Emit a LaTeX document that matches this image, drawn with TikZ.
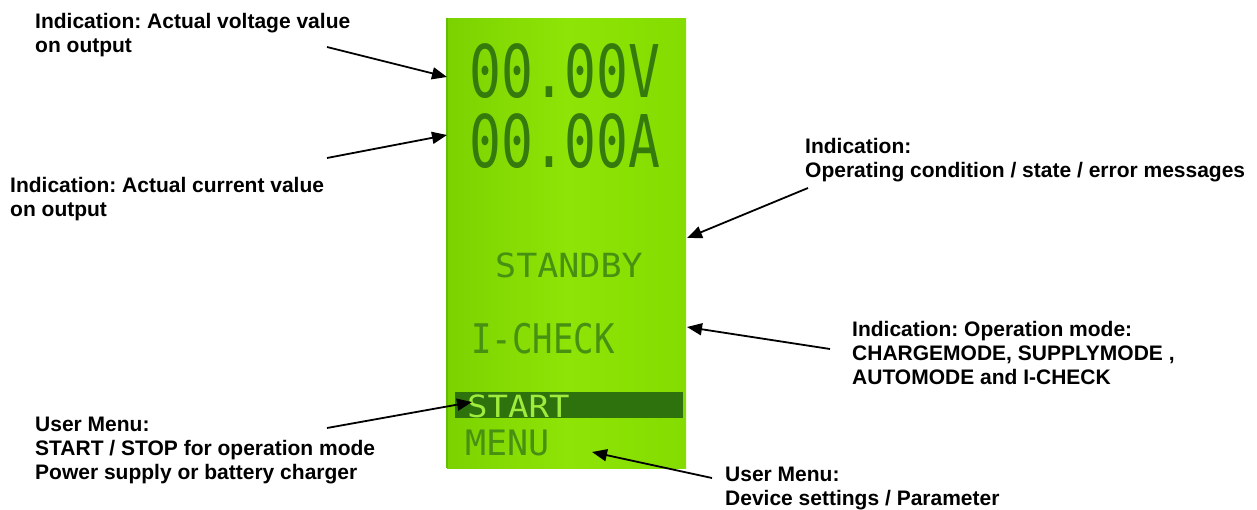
\documentclass[tikz,border=0pt]{standalone}
\usepackage{fontspec}
\usepackage{graphicx}
\setmainfont{Liberation Sans}
\newfontfamily\lcdfont{DejaVu Sans Mono}
\usetikzlibrary{arrows.meta}
\definecolor{lcdL}{RGB}{124,210,0}
\definecolor{lcdM}{RGB}{142,228,6}
\definecolor{lcdR}{RGB}{132,220,0}
\definecolor{lcdEdge}{RGB}{100,190,0}
\definecolor{lcdInk}{RGB}{52,122,12}
\definecolor{lcdInkSoft}{RGB}{70,144,18}
\definecolor{lcdBar}{RGB}{46,114,14}
\definecolor{lcdLit}{RGB}{160,236,60}
\begin{document}
\frenchspacing
\begin{tikzpicture}[x=1pt,y=-1pt,
  lbl/.style={anchor=north west,inner sep=0pt,align=left,font=\fontsize{21}{24}\selectfont\bfseries},
  lcdtxt/.style={anchor=base west,inner sep=0pt,text=lcdInk},
  pointer/.style={line width=1.8pt,-{Triangle[length=15pt,width=12pt]}}]
\useasboundingbox (0,0) rectangle (1257,510);
% LCD panel
\node[anchor=north west,inner sep=0pt,minimum width=239pt,minimum height=450pt,
  left color=lcdL,right color=lcdR,middle color=lcdM] (lcd) at (447,18) {};
\draw[lcdEdge,line width=2.5pt] (lcd.north west) -- (lcd.south west);
\node[anchor=north west,inner sep=0pt,minimum width=228pt,minimum height=26pt,fill=lcdBar] (bar) at (455,392) {};
% LCD texts
\node[lcdtxt,font=\fontsize{53}{53}\lcdfont] (volt) at (469,98) {\scalebox{1}[1.37]{00.00V}};
\node[lcdtxt,font=\fontsize{53}{53}\lcdfont] (amp) at (469,168) {\scalebox{1}[1.37]{00.00A}};
\node[lcdtxt,text=lcdInkSoft,font=\fontsize{35}{35}\lcdfont] (standby) at (495,278) {\scalebox{1}[0.95]{STANDBY}};
\node[lcdtxt,text=lcdInkSoft,font=\fontsize{34}{34}\lcdfont] (icheck) at (471,353) {\scalebox{1}[1.2]{I-CHECK}};
\node[lcdtxt,text=lcdLit,font=\fontsize{34}{34}\lcdfont] (start) at (467,417) {\scalebox{1}[0.9]{START}};
\node[lcdtxt,text=lcdInkSoft,font=\fontsize{35}{35}\lcdfont] (menu) at (465,455) {\scalebox{1}[1.0]{MENU}};
% labels
\node[lbl] (lv) at (35,13) {Indication: Actual voltage value\\on output};
\node[lbl] (lc) at (10,177) {Indication: Actual current value\\on output};
\node[lbl] (ls) at (805,138) {Indication:\\Operating condition / state / error messages};
\node[lbl] (lm) at (852,321) {Indication: Operation mode:\\CHARGEMODE, SUPPLYMODE ,\\AUTOMODE and I-CHECK};
\node[lbl] (lu) at (35,417) {User Menu:\\START / STOP for operation mode\\Power supply or battery charger};
\node[lbl] (ld) at (725,467) {User Menu:\\Device settings / Parameter};
% arrow ends
\coordinate (t1) at (327,47);  \coordinate (h1) at (447,77);
\coordinate (t2) at (327,158); \coordinate (h2) at (447,135);
\coordinate (t3) at (808,188); \coordinate (h3) at (687,238);
\coordinate (t4) at (830,349); \coordinate (h4) at (687,327);
\coordinate (t5) at (327,428); \coordinate (h5) at (472,402);
\coordinate (t6) at (712,478); \coordinate (h6) at (592,452);
\draw[pointer] (t1) -- (h1);
\draw[pointer] (t2) -- (h2);
\draw[pointer] (t3) -- (h3);
\draw[pointer] (t4) -- (h4);
\draw[pointer] (t5) -- (h5);
\draw[pointer] (t6) -- (h6);
\end{tikzpicture}
\end{document}
